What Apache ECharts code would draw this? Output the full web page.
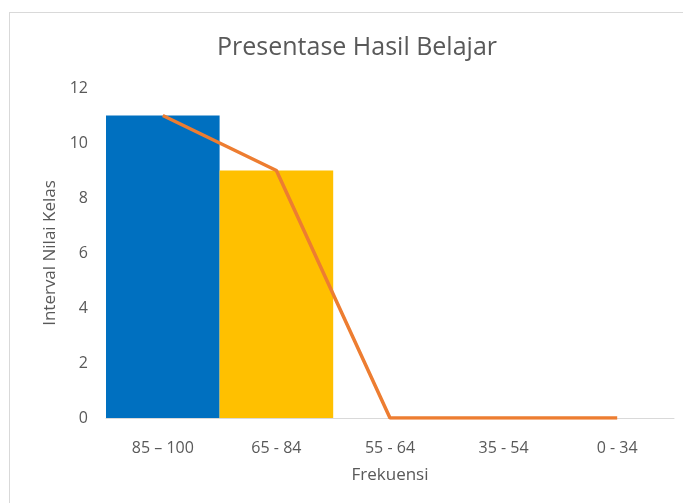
<!DOCTYPE html>
<html>
<head>
<meta charset="utf-8">
<script src="https://cdn.jsdelivr.net/npm/echarts@6/dist/echarts.min.js"></script>
<style>
  html, body { margin: 0; padding: 0; background: #fff; }
  #frame { position: absolute; left: 9px; top: 12px; width: 690px; height: 500px; border: 1px solid #d9d9d9; box-sizing: border-box; }
  #chart { position: absolute; left: 0; top: 0; width: 683px; height: 503px; }
</style>
</head>
<body>
<div id="frame"></div>
<div id="chart"></div>
<script>
const categories = ["85 \u2013 100", "65 - 84", "55 - 64", "35 - 54", "0 - 34"];
const barValues = [11, 9, 0, 0, 0];
const lineValues = [11, 9, 0, 0, 0];
const barColors = ["#0070C0", "#FFC000", "#0070C0", "#0070C0", "#0070C0"];

const textColor = "#595959";
const fontFamily = "'Open Sans', 'Noto Sans', sans-serif";

const chart = echarts.init(document.getElementById("chart"));
chart.setOption({
  animation: false,
  title: {
    text: "Presentase Hasil Belajar",
    left: 212,
    top: 30,
    textStyle: { color: textColor, fontSize: 25, fontWeight: "normal", fontFamily },
  },
  grid: { left: 106, right: 9, top: 88, bottom: 85 },
  xAxis: {
    type: "category",
    data: categories,
    name: "Frekuensi",
    nameLocation: "middle",
    nameGap: 49,
    nameTextStyle: { color: textColor, fontSize: 17, fontFamily },
    axisLine: { lineStyle: { color: "#d9d9d9", width: 1 } },
    axisTick: { show: false },
    axisLabel: { color: textColor, fontSize: 16, fontFamily, margin: 22 },
  },
  yAxis: {
    type: "value",
    min: 0,
    max: 12,
    interval: 2,
    name: "Interval Nilai Kelas",
    nameLocation: "middle",
    nameGap: 46,
    nameTextStyle: { color: textColor, fontSize: 17, fontFamily },
    axisLine: { show: false },
    axisTick: { show: false },
    splitLine: { show: false },
    axisLabel: { color: textColor, fontSize: 16, fontFamily, margin: 18 },
  },
  series: [
    {
      type: "bar",
      barWidth: "100%",
      data: barValues.map((v, i) => ({ value: v, itemStyle: { color: barColors[i] } })),
    },
    {
      type: "line",
      data: lineValues,
      symbol: "none",
      lineStyle: { color: "#ED7D31", width: 3.5 },
      z: 3,
    },
  ],
});
</script>
</body>
</html>
